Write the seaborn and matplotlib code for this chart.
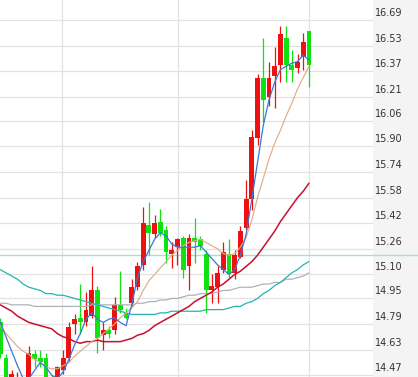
import matplotlib
matplotlib.use("Agg")
import matplotlib.pyplot as plt
from matplotlib.transforms import ScaledTranslation
import seaborn as sns
import pandas as pd

# daily candles, oldest first  (red = up day, green = down day)
opens = [14.80, 14.58, 14.46, 14.43, 14.44, 14.39, 14.60, 14.58, 14.58, 14.44,
         14.41, 14.50, 14.58, 14.79, 14.83, 14.80, 14.84, 15.00, 14.72, 14.75,
         14.75, 14.91, 14.86, 14.92, 15.02, 15.16, 15.41, 15.35, 15.43, 15.38,
         15.23, 15.27, 15.33, 15.15, 15.33, 15.32, 15.23, 15.00, 15.02, 15.13,
         15.23, 15.11, 15.21, 15.39, 15.57, 15.95, 16.33, 16.21, 16.34, 16.41,
         16.58, 16.41, 16.39, 16.46, 16.62]
highs = [14.83, 14.60, 14.50, 14.49, 14.45, 14.65, 14.63, 14.63, 14.61, 14.47,
         14.53, 14.63, 14.80, 14.85, 15.04, 14.99, 15.15, 15.03, 14.80, 14.78,
         14.96, 15.12, 14.89, 15.07, 15.18, 15.52, 15.55, 15.47, 15.51, 15.40,
         15.30, 15.33, 15.34, 15.35, 15.45, 15.34, 15.25, 15.10, 15.15, 15.30,
         15.32, 15.25, 15.40, 15.69, 16.00, 16.35, 16.58, 16.43, 16.52, 16.65,
         16.65, 16.50, 16.48, 16.61, 16.62]
lows = [14.58, 14.38, 14.41, 14.39, 14.35, 14.37, 14.52, 14.52, 14.39, 14.36,
        14.39, 14.48, 14.55, 14.73, 14.73, 14.78, 14.83, 14.61, 14.63, 14.70,
        14.73, 14.86, 14.82, 14.90, 15.00, 15.13, 15.22, 15.33, 15.34, 15.17,
        15.14, 15.16, 15.08, 15.00, 15.17, 15.25, 14.86, 14.92, 14.92, 15.11,
        15.08, 15.07, 15.20, 15.38, 15.50, 15.91, 16.05, 16.15, 16.14, 16.30,
        16.30, 16.30, 16.36, 16.38, 16.27]
closes = [14.60, 14.41, 14.48, 14.46, 14.37, 14.61, 14.57, 14.55, 14.41, 14.38,
          14.52, 14.58, 14.77, 14.82, 14.80, 14.88, 15.00, 14.70, 14.75, 14.73,
          14.91, 14.88, 14.83, 15.02, 15.15, 15.42, 15.36, 15.42, 15.36, 15.24,
          15.25, 15.32, 15.13, 15.33, 15.30, 15.28, 15.00, 15.03, 15.11, 15.24,
          15.10, 15.22, 15.37, 15.57, 15.96, 16.33, 16.19, 16.33, 16.40, 16.60,
          16.41, 16.38, 16.43, 16.55, 16.41]

# moving averages
ma5 = [14.80, 14.71, 14.62, 14.53, 14.45, 14.45, 14.50, 14.55, 14.52, 14.47,
       14.45, 14.49, 14.57, 14.66, 14.73, 14.82, 14.86, 14.82, 14.80, 14.82,
       14.83, 14.80, 14.78, 14.91, 15.08, 15.18, 15.25, 15.32, 15.36, 15.34,
       15.29, 15.27, 15.27, 15.27, 15.27, 15.28, 15.24, 15.20, 15.16, 15.13,
       15.10, 15.13, 15.22, 15.35, 15.57, 15.80, 16.03, 16.19, 16.30, 16.38,
       16.40, 16.42, 16.43, 16.47, 16.44]
ma10 = [14.78, 14.73, 14.69, 14.65, 14.62, 14.60, 14.57, 14.55, 14.52, 14.51,
        14.51, 14.53, 14.55, 14.59, 14.62, 14.65, 14.68, 14.70, 14.73, 14.76,
        14.79, 14.83, 14.86, 14.89, 14.93, 15.00, 15.06, 15.10, 15.14, 15.18,
        15.22, 15.25, 15.28, 15.30, 15.31, 15.32, 15.30, 15.28, 15.26, 15.23,
        15.22, 15.23, 15.27, 15.33, 15.44, 15.58, 15.70, 15.82, 15.92, 16.00,
        16.09, 16.17, 16.26, 16.33, 16.40]
ma20 = [14.91, 14.89, 14.87, 14.84, 14.82, 14.80, 14.79, 14.78, 14.77, 14.76,
        14.73, 14.71, 14.70, 14.68, 14.67, 14.68, 14.68, 14.69, 14.68, 14.68,
        14.68, 14.68, 14.69, 14.70, 14.72, 14.73, 14.75, 14.78, 14.80, 14.82,
        14.84, 14.86, 14.88, 14.90, 14.93, 14.95, 14.97, 14.99, 15.02, 15.04,
        15.07, 15.10, 15.12, 15.15, 15.18, 15.22, 15.27, 15.32, 15.37, 15.43,
        15.48, 15.53, 15.58, 15.62, 15.67]
ma30 = [15.13, 15.11, 15.09, 15.07, 15.04, 15.02, 15.01, 15.00, 14.98, 14.98,
        14.97, 14.97, 14.96, 14.95, 14.94, 14.93, 14.92, 14.91, 14.90, 14.89,
        14.88, 14.87, 14.86, 14.85, 14.85, 14.85, 14.85, 14.85, 14.86, 14.86,
        14.87, 14.87, 14.87, 14.87, 14.87, 14.87, 14.88, 14.88, 14.88, 14.88,
        14.89, 14.90, 14.90, 14.92, 14.93, 14.95, 14.98, 15.00, 15.03, 15.05,
        15.08, 15.11, 15.13, 15.16, 15.18]
ma60 = [14.92, 14.92, 14.91, 14.91, 14.91, 14.91, 14.90, 14.90, 14.90, 14.90,
        14.90, 14.90, 14.90, 14.90, 14.90, 14.90, 14.91, 14.91, 14.91, 14.91,
        14.91, 14.91, 14.91, 14.91, 14.92, 14.92, 14.93, 14.93, 14.94, 14.94,
        14.95, 14.95, 14.96, 14.97, 14.97, 14.98, 14.98, 14.98, 14.99, 15.00,
        15.00, 15.01, 15.02, 15.02, 15.02, 15.03, 15.04, 15.04, 15.05, 15.05,
        15.07, 15.07, 15.08, 15.09, 15.11]

ref_price = 15.22
price_ticks = [16.69, 16.53, 16.37, 16.21, 16.06, 15.90, 15.74, 15.58,
               15.42, 15.26, 15.10, 14.95, 14.79, 14.63, 14.47]
month_marks = [10.85, 31.1, 54.0]

df = pd.DataFrame({'day': range(len(closes)), 'open': opens, 'high': highs,
                   'low': lows, 'close': closes, 'ma5': ma5, 'ma10': ma10,
                   'ma20': ma20, 'ma30': ma30, 'ma60': ma60})
df['up'] = df['close'] >= df['open']
df['color'] = df['up'].map({True: '#ee1111', False: '#11e011'})

sns.set_style('white')
fig = plt.figure(figsize=(4.18, 3.77), dpi=100, facecolor='#f4f4f4')
ax = fig.add_axes([0, 0, 373 / 418, 1], facecolor='white')

# candles
ax.vlines(df['day'], df['low'], df['high'], colors=df['color'], lw=0.9, zorder=2)
ax.bar(df['day'], (df['close'] - df['open']).abs(),
       bottom=df[['open', 'close']].min(axis=1), width=0.85,
       color=df['color'], linewidth=0, zorder=3)

# moving averages
lines = [('ma60', '#a9b0b8', 0.85), ('ma30', '#22b5b0', 0.9),
         ('ma20', '#c8102e', 1.1), ('ma10', '#e0ad85', 0.85),
         ('ma5', '#3a78d8', 0.9)]
for col, c, w in lines:
    sns.lineplot(data=df, x='day', y=col, color=c, lw=w, ax=ax, zorder=4)

ax.axhline(ref_price, xmin=0, xmax=418 / 373, color='#a6dcdc', lw=1.0,
           clip_on=False, zorder=1)

ax.set_xlim(-0.05, 65.2)
ax.set_ylim(14.459, 16.815)
ax.set_xticks(month_marks)
ax.set_yticks(price_ticks)
ax.tick_params(length=0, labelbottom=False, labelleft=False)
ax.grid(True, color='#e2e2e2', lw=0.9, zorder=0)
ax.set_axisbelow(True)
ax.set_xlabel('')
ax.set_ylabel('')
for s in ax.spines.values():
    s.set_visible(False)

# price labels sit just above their grid lines
shift = ScaledTranslation(2 / 100, 7 / 100, fig.dpi_scale_trans)
for p in price_ticks:
    ax.text(1.0, p, f'{p:.2f}', transform=ax.get_yaxis_transform() + shift,
            ha='left', va='center', fontsize=7, color='#333333')

fig.savefig('out.png', dpi=100, facecolor=fig.get_facecolor())
